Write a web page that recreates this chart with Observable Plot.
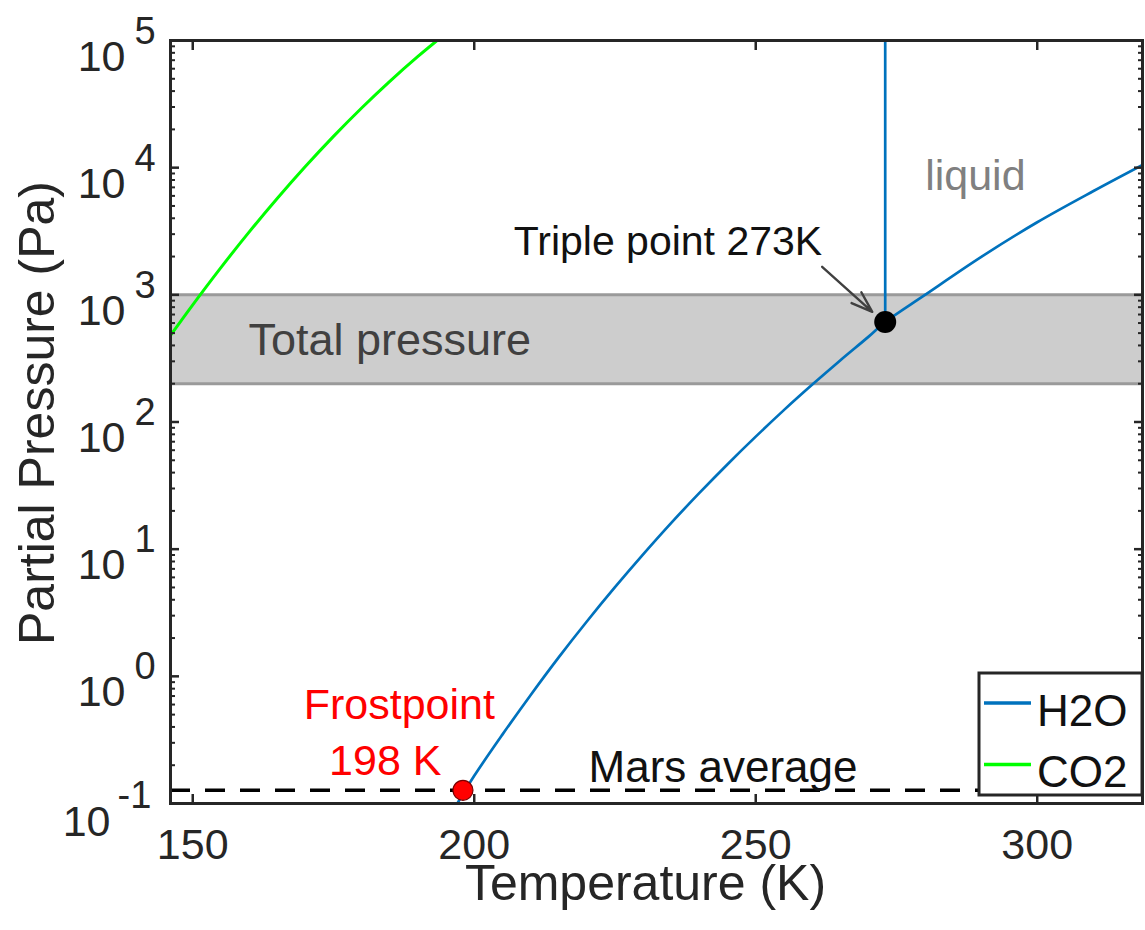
<!DOCTYPE html>
<html>
<head>
<meta charset="utf-8">
<script src="https://cdn.jsdelivr.net/npm/d3@7"></script>
<script src="https://cdn.jsdelivr.net/npm/@observablehq/plot@0.6"></script>
<style>
  html, body { margin: 0; padding: 0; background: #fff; }
  #chart { position: relative; width: 1145px; height: 930px; }
</style>
</head>
<body>
<div id="chart"></div>
<script>
const FONT = '"Liberation Sans", Arial, Helvetica, sans-serif';

// Axis ranges and ticks
const xDomain = [146.05, 318.7];          // temperature, K
const yDomain = [0.1, 1e5];               // pressure, Pa
const xTicks = [150, 200, 250, 300];
const yExponents = [-1, 0, 1, 2, 3, 4, 5];

// H2O: ice sublimation branch up to the triple point, then liquid evaporation
const h2oTemp = [197.0, 200, 205, 210, 215, 220, 225, 230, 235, 240, 245, 250, 255, 260, 265, 270, 273, 280, 290, 300, 310, 318.7];
const h2oPres = [0.10, 0.165, 0.348, 0.711, 1.41, 2.70, 5.02, 9.10, 16.1, 27.7, 46.6, 76.7, 124, 196, 305, 467, 611, 995, 1980, 3720, 6550, 10500];

// H2O melting line (vertical above the triple point)
const meltTemp = [273, 273];
const meltPres = [611, 1e5];

// CO2 sublimation curve
const co2Temp = [146.05, 150, 155, 160, 165, 170, 175, 180, 185, 190, 193.4];
const co2Pres = [479, 834, 1637, 3110, 5720, 10200, 17620, 29470, 47750, 74970, 1e5];

// Mars total surface pressure range, Pa
const totalPressure = [200, 1000];

// Mars average water vapour partial pressure, Pa
const marsAverage = 0.127;

// Marked points
const triplePoint = {T: 273, p: 611};
const frostPoint = {T: 198, p: marsAverage};

// Series names
const seriesNames = ["H2O", "CO2"];

// Annotation texts and where they sit (T in K, p in Pa)
const notes = [
  {text: "liquid", T: 280.1, p: 6670},
  {text: "Total pressure", T: 159.9, p: 339},
  {text: "Triple point 273K", T: 261.8, p: 2050},
  {text: "Mars average", T: 220.3, p: 0.147},
  {text: "Frostpoint", T: 186.7, p: 0.459},
  {text: "198 K", T: 184.2, p: 0.169}
];
const tripleArrow = {T1: 261.8, p1: 1660, T2: 270.7, p2: 735};

// ---- styling ----
const ink = "#262626";
const seriesColors = {H2O: "#0072BD", CO2: "#00FF00"};
const noteStyle = {
  "liquid":            {fill: "#808080", anchor: "start",  size: 43},
  "Total pressure":    {fill: "#404040", anchor: "start",  size: 45},
  "Triple point 273K": {fill: "#111111", anchor: "end",    size: 41},
  "Mars average":      {fill: "#111111", anchor: "start",  size: 44},
  "Frostpoint":        {fill: "#ff0000", anchor: "middle", size: 43},
  "198 K":             {fill: "#ff0000", anchor: "middle", size: 43}
};

const h2o = h2oTemp.map((T, i) => ({T, p: h2oPres[i]}));
const melt = meltTemp.map((T, i) => ({T, p: meltPres[i]}));
const co2 = co2Temp.map((T, i) => ({T, p: co2Pres[i]}));

const yMinor = [];
for (let e = -1; e < 5; e++) for (let m = 2; m <= 9; m++) yMinor.push(m * 10 ** e);
const yMajor = yExponents.map(e => 10 ** e);
const blank = () => "";

const noteMarks = notes.map(n => {
  const s = noteStyle[n.text];
  return Plot.text([n], {
    x: "T", y: "p", text: "text", fill: s.fill,
    textAnchor: s.anchor, lineAnchor: "bottom", fontSize: s.size
  });
});

const chart = Plot.plot({
  width: 1145,
  height: 930,
  marginLeft: 170,
  marginRight: 3,
  marginTop: 40,
  marginBottom: 127,
  style: {fontFamily: FONT, color: ink, background: "#fff", overflow: "visible"},
  x: {domain: xDomain},
  y: {type: "log", domain: yDomain},
  marks: [
    // Total pressure band
    Plot.rect([totalPressure], {x1: xDomain[0], x2: xDomain[1], y1: d => d[0], y2: d => d[1], fill: "#cdcdcd"}),
    Plot.ruleY(totalPressure, {stroke: "#9a9a9a", strokeWidth: 3}),

    // Mars average dashed line
    Plot.ruleY([marsAverage], {stroke: "#000", strokeWidth: 3.5, strokeDasharray: "20,15"}),

    // Phase curves
    Plot.line(co2, {x: "T", y: "p", stroke: seriesColors.CO2, strokeWidth: 3, curve: "catmull-rom", clip: true}),
    Plot.line(h2o, {x: "T", y: "p", stroke: seriesColors.H2O, strokeWidth: 2.7, curve: "catmull-rom", clip: true}),
    Plot.line(melt, {x: "T", y: "p", stroke: seriesColors.H2O, strokeWidth: 2.7}),

    // Triple point and frost point
    Plot.arrow([tripleArrow], {x1: "T1", y1: "p1", x2: "T2", y2: "p2", stroke: "#404040", strokeWidth: 2.4, headLength: 18, headAngle: 38}),
    Plot.dot([triplePoint], {x: "T", y: "p", r: 11, fill: "#000", stroke: "none"}),
    Plot.dot([frostPoint], {x: "T", y: "p", r: 10, fill: "#ff0000", stroke: "#7a0000", strokeWidth: 1.2}),

    ...noteMarks,

    // Axes: inward ticks on all four sides
    Plot.axisX({anchor: "bottom", ticks: xTicks, tickSize: 0, tickPadding: 25, fontSize: 43, label: null, fill: ink}),
    Plot.axisX({anchor: "bottom", ticks: xTicks, tickSize: -9, tickFormat: blank, label: null, stroke: ink, strokeWidth: 2.5}),
    Plot.axisX({anchor: "top", ticks: xTicks, tickSize: -9, tickFormat: blank, label: null, stroke: ink, strokeWidth: 2.5}),
    Plot.axisY({anchor: "left", ticks: yMajor, tickSize: -9, tickFormat: blank, label: null, stroke: ink, strokeWidth: 2.5}),
    Plot.axisY({anchor: "left", ticks: yMinor, tickSize: -5, tickFormat: blank, label: null, stroke: ink, strokeWidth: 2}),
    Plot.axisY({anchor: "right", ticks: yMajor, tickSize: -9, tickFormat: blank, label: null, stroke: ink, strokeWidth: 2.5}),
    Plot.axisY({anchor: "right", ticks: yMinor, tickSize: -5, tickFormat: blank, label: null, stroke: ink, strokeWidth: 2}),

    // y tick labels as 10 with a raised exponent
    Plot.text(yExponents.filter(e => e >= 0), {y: e => 10 ** e, frameAnchor: "left", text: () => "10", textAnchor: "end", lineAnchor: "bottom", dx: -45, dy: 30, fontSize: 43, fill: ink}),
    Plot.text(yExponents.filter(e => e >= 0), {y: e => 10 ** e, frameAnchor: "left", text: e => String(e), textAnchor: "start", lineAnchor: "bottom", dx: -36, dy: 3, fontSize: 38, fill: ink}),
    Plot.text(yExponents.filter(e => e < 0), {y: e => 10 ** e, frameAnchor: "left", text: () => "10", textAnchor: "end", lineAnchor: "bottom", dx: -60, dy: 32, fontSize: 43, fill: ink}),
    Plot.text(yExponents.filter(e => e < 0), {y: e => 10 ** e, frameAnchor: "left", text: e => "-" + Math.abs(e), textAnchor: "start", lineAnchor: "bottom", dx: -53, dy: 4, fontSize: 38, fill: ink}),

    // Axis titles
    Plot.text(["Temperature (K)"], {frameAnchor: "bottom", text: d => d, textAnchor: "middle", lineAnchor: "bottom", dx: -11, dy: 96, fontSize: 50, fill: ink}),
    Plot.text(["Partial Pressure (Pa)"], {frameAnchor: "left", text: d => d, textAnchor: "middle", lineAnchor: "bottom", rotate: -90, dx: -117, dy: -9, fontSize: 50, fill: ink}),

    Plot.frame({stroke: ink, strokeWidth: 3})
  ]
});

document.getElementById("chart").appendChild(chart);

// Legend box in the lower right corner of the plot area
const svg = d3.select(chart);
const lgW = 163, lgH = 122;
const lgX = 1145 - 3 - lgW, lgY = 930 - 127 - 8 - lgH;
const lg = svg.append("g").attr("transform", `translate(${lgX},${lgY})`);
lg.append("rect").attr("width", lgW).attr("height", lgH)
  .attr("fill", "#fff").attr("stroke", ink).attr("stroke-width", 3);
seriesNames.forEach((name, i) => {
  const cy = 30 + i * 61.5;
  lg.append("line").attr("x1", 5).attr("x2", 52).attr("y1", cy).attr("y2", cy)
    .attr("stroke", seriesColors[name]).attr("stroke-width", 3.5);
  lg.append("text").attr("x", 58).attr("y", cy + 22.5)
    .attr("text-anchor", "start")
    .attr("font-family", FONT).attr("font-size", 44).attr("fill", "#111").text(name);
});
</script>
</body>
</html>
